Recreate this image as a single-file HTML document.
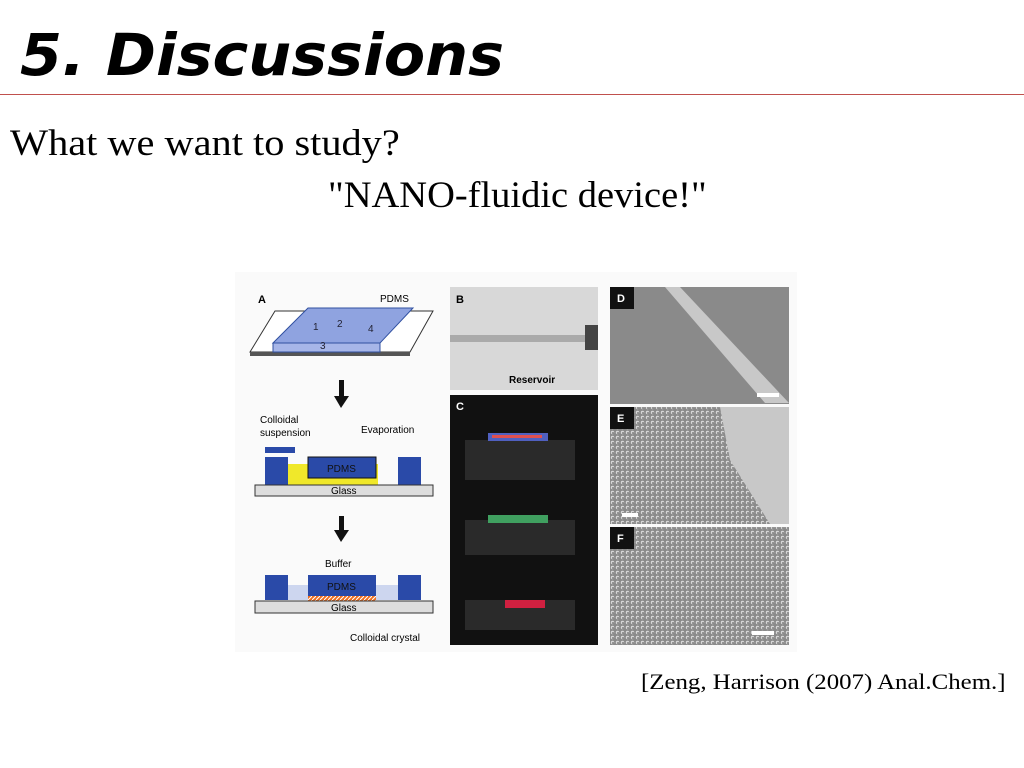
<!DOCTYPE html>
<html><head><meta charset="utf-8"><style>
body{margin:0;width:1024px;height:768px;background:#fff;position:relative;overflow:hidden}
.t{position:absolute;white-space:nowrap;transform-origin:0 0}
</style></head><body>
<div class="t" style="left:20px;top:20px;font:italic bold 58px 'DejaVu Sans',sans-serif;color:#000;line-height:70px;transform:scaleX(1.04)">5. Discussions</div>
<div style="position:absolute;left:0;top:94px;width:1024px;height:1px;background:#c0504d"></div>
<div class="t" style="left:10px;top:123px;font:37px 'Liberation Serif',serif;line-height:42px;transform:scaleX(1.09)">What we want to study?</div>
<div class="t" style="left:328px;top:175px;font:37px 'Liberation Serif',serif;line-height:42px;transform:scaleX(1.04)">"NANO-fluidic device!"</div>
<div class="t" style="left:641px;top:668px;font:22px 'Liberation Serif',serif;line-height:28px;transform:scaleX(1.13)">[Zeng, Harrison (2007) Anal.Chem.]</div>
<svg width="1024" height="768" style="position:absolute;left:0;top:0" font-family="Liberation Sans,sans-serif">
<defs>
<pattern id="dots" width="5" height="5" patternUnits="userSpaceOnUse"><rect width="5" height="5" fill="#8a8a8a"/><circle cx="2.5" cy="2.5" r="1.7" fill="#d8d8d8"/><circle cx="3" cy="3" r="0.9" fill="#666"/></pattern>
<pattern id="hatch" width="4" height="4" patternUnits="userSpaceOnUse"><rect width="4" height="4" fill="#f07020"/><path d="M0 4L4 0" stroke="#fff" stroke-width="1"/></pattern>
</defs>
<rect x="235" y="272" width="562" height="380" fill="#fafafa"/>
<g>
<text x="258" y="303" font-size="11" font-weight="bold">A</text>
<text x="380" y="302" font-size="10">PDMS</text>
<polygon points="250,352 275,311 433,311 410,352" fill="#fff" stroke="#333"/>
<rect x="250" y="352" width="160" height="4" fill="#555"/>
<polygon points="273,343 308,308 413,308 380,343" fill="#8fa3e0" stroke="#3050a0"/>
<rect x="273" y="343" width="107" height="9" fill="#a7b6e8" stroke="#3050a0"/>
<text x="313" y="330" font-size="10" fill="#223">1</text><text x="337" y="327" font-size="10" fill="#223">2</text><text x="368" y="332" font-size="10" fill="#223">4</text><text x="320" y="349" font-size="10" fill="#223">3</text>
<rect x="339" y="380" width="5" height="18" fill="#111"/><polygon points="334,396 349,396 341,408" fill="#111"/>
<text x="260" y="423" font-size="10">Colloidal</text><text x="260" y="436" font-size="10">suspension</text>
<text x="361" y="433" font-size="10">Evaporation</text>
<rect x="265" y="447" width="30" height="6" fill="#2a4aa8"/>
<rect x="288" y="464" width="90" height="21" fill="#f0e82a"/>
<rect x="265" y="457" width="23" height="28" fill="#2a4aa8"/>
<rect x="398" y="457" width="23" height="28" fill="#2a4aa8"/>
<rect x="308" y="457" width="68" height="21" fill="#2a4aa8" stroke="#111"/>
<text x="327" y="472" font-size="10" fill="#111">PDMS</text>
<rect x="255" y="485" width="178" height="11" fill="#ddd" stroke="#333"/>
<text x="331" y="494" font-size="10">Glass</text>
<rect x="339" y="516" width="5" height="16" fill="#111"/><polygon points="334,530 349,530 341,542" fill="#111"/>
<text x="325" y="567" font-size="10">Buffer</text>
<rect x="265" y="575" width="23" height="25" fill="#2a4aa8"/>
<rect x="398" y="575" width="23" height="25" fill="#2a4aa8"/>
<rect x="288" y="585" width="110" height="15" fill="#cdd6ef"/>
<rect x="308" y="575" width="68" height="21" fill="#2a4aa8"/>
<text x="327" y="590" font-size="10" fill="#111">PDMS</text>
<rect x="308" y="596" width="68" height="5" fill="url(#hatch)"/>
<rect x="255" y="601" width="178" height="12" fill="#ddd" stroke="#333"/>
<text x="331" y="611" font-size="10">Glass</text>
<text x="350" y="641" font-size="10">Colloidal crystal</text>
</g>
<g>
<rect x="450" y="287" width="148" height="103" fill="#d8d8d8"/>
<rect x="450" y="335" width="140" height="7" fill="#aaa"/>
<rect x="585" y="325" width="13" height="25" fill="#444"/>
<text x="456" y="303" font-size="11" font-weight="bold">B</text>
<text x="509" y="383" font-size="10" font-weight="bold">Reservoir</text>
</g>
<g>
<rect x="450" y="395" width="148" height="250" fill="#111"/>
<text x="456" y="410" font-size="11" font-weight="bold" fill="#fff">C</text>
<rect x="465" y="440" width="110" height="40" fill="#2a2a2a"/>
<rect x="488" y="433" width="60" height="8" fill="#5060c0"/><rect x="492" y="435" width="50" height="3" fill="#e05050"/>
<rect x="465" y="520" width="110" height="35" fill="#2a2a2a"/>
<rect x="488" y="515" width="60" height="8" fill="#40a060"/>
<rect x="465" y="600" width="110" height="30" fill="#2a2a2a"/>
<rect x="505" y="600" width="40" height="8" fill="#d02040"/>
</g>
<g>
<rect x="610" y="287" width="179" height="117" fill="#8a8a8a"/>
<polygon points="665,287 680,287 789,403 765,403" fill="#c8c8c8"/>
<rect x="610" y="287" width="24" height="22" fill="#111"/>
<text x="617" y="302" font-size="11" font-weight="bold" fill="#fff">D</text>
<rect x="757" y="393" width="22" height="4" fill="#fff"/>
</g>
<g>
<rect x="610" y="407" width="179" height="117" fill="url(#dots)"/>
<polygon points="720,407 789,407 789,524 770,524 730,460" fill="#c8c8c8"/>
<rect x="610" y="407" width="24" height="22" fill="#111"/>
<text x="617" y="422" font-size="11" font-weight="bold" fill="#fff">E</text>
<rect x="622" y="513" width="16" height="4" fill="#fff"/>
</g>
<g>
<rect x="610" y="527" width="179" height="118" fill="url(#dots)"/>
<rect x="610" y="527" width="24" height="22" fill="#111"/>
<text x="617" y="542" font-size="11" font-weight="bold" fill="#fff">F</text>
<rect x="752" y="631" width="22" height="4" fill="#fff"/>
</g>
</svg>
</body></html>
